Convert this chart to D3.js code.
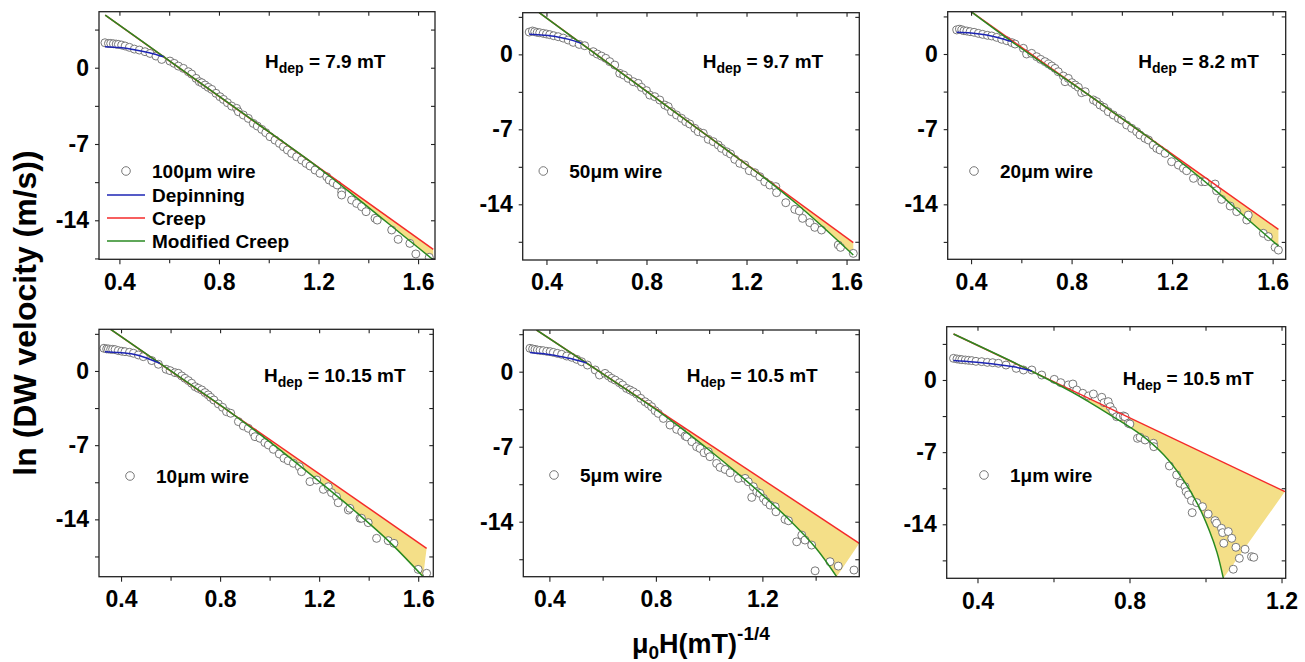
<!DOCTYPE html>
<html>
<head>
<meta charset="utf-8">
<script src="https://cdn.jsdelivr.net/npm/d3@7"></script>
<style>
  body { margin: 0; background: #fff; }
  svg text { font-family: "Liberation Sans", Arial, Helvetica, sans-serif; font-weight: bold; fill: #000; }
</style>
</head>
<body>
<svg id="chart" width="1305" height="662"></svg>
<script>
// ---------------- data ----------------
const wireLabels = ["100μm wire", "50μm wire", "20μm wire", "10μm wire", "5μm wire", "1μm wire"];
const hdepValues = ["7.9", "9.7", "8.2", "10.15", "10.5", "10.5"];
const legendNames = ["Depinning", "Creep", "Modified Creep"];

const xTicksWide = [0.4, 0.8, 1.2, 1.6];
const xMinorWide = [0.6, 1.0, 1.4];
const xTicksMid = [0.4, 0.8, 1.2];
const xMinorMid = [0.6, 1.0, 1.4];
const xTicksNarrow = [0.4, 0.8, 1.2];
const xMinorNarrow = [0.6, 1.0];
const yTicks = [0, -7, -14];
const yMinor = [3.5, -3.5, -10.5, -17.5];

// measured ln(v) versus (mu0 H)^(-1/4)
const wire100 = [[0.342,2.29],[0.356,2.23],[0.365,2.23],[0.376,2.20],[0.387,2.17],[0.396,2.14],[0.409,2.08],[0.423,1.99],[0.440,1.87],[0.460,1.71],[0.480,1.62],[0.503,1.47],[0.523,1.31],[0.547,1.07],[0.570,0.76],[0.603,0.61],[0.620,0.40],[0.637,0.15],[0.657,-0.06],[0.677,-0.37],[0.690,-0.58],[0.708,-0.98],[0.721,-1.28],[0.731,-1.38],[0.744,-1.59],[0.757,-1.80],[0.771,-1.99],[0.788,-2.35],[0.804,-2.66],[0.818,-2.91],[0.834,-3.21],[0.851,-3.52],[0.871,-3.73],[0.878,-4.04],[0.898,-4.34],[0.918,-4.65],[0.938,-5.11],[0.954,-5.35],[0.972,-5.66],[0.988,-5.96],[1.005,-6.33],[1.025,-6.64],[1.043,-6.94],[1.059,-7.25],[1.075,-7.55],[1.092,-7.86],[1.112,-8.17],[1.132,-8.47],[1.150,-8.78],[1.166,-9.02],[1.186,-9.39],[1.206,-9.69],[1.233,-10.00],[1.243,-10.31],[1.259,-10.55],[1.275,-10.76],[1.293,-11.38],[1.293,-11.68],[1.333,-12.14],[1.353,-12.45],[1.373,-12.75],[1.391,-13.21],[1.427,-13.82],[1.436,-13.98],[1.494,-14.89],[1.520,-15.75],[1.567,-16.12],[1.591,-17.09],[1.645,-17.40]];
const wire50 = [[0.331,2.08],[0.344,2.18],[0.353,2.12],[0.363,2.05],[0.373,2.02],[0.387,1.96],[0.400,1.90],[0.413,1.84],[0.429,1.74],[0.447,1.65],[0.467,1.52],[0.487,1.34],[0.507,1.12],[0.531,0.93],[0.553,0.81],[0.587,0.25],[0.603,0.03],[0.620,-0.16],[0.637,-0.37],[0.653,-0.68],[0.673,-1.00],[0.693,-1.77],[0.709,-1.93],[0.727,-2.24],[0.747,-2.55],[0.767,-2.71],[0.780,-3.08],[0.800,-3.39],[0.813,-3.80],[0.833,-3.95],[0.853,-4.26],[0.873,-4.73],[0.887,-4.88],[0.900,-5.35],[0.920,-5.66],[0.940,-5.97],[0.957,-6.29],[0.973,-6.50],[0.993,-6.91],[1.007,-7.22],[1.027,-7.37],[1.047,-7.93],[1.067,-8.15],[1.087,-8.46],[1.100,-8.77],[1.120,-9.09],[1.136,-9.30],[1.153,-9.80],[1.173,-10.17],[1.193,-10.33],[1.211,-10.86],[1.233,-11.05],[1.253,-11.42],[1.273,-11.89],[1.293,-12.20],[1.317,-12.35],[1.320,-12.91],[1.357,-13.85],[1.393,-14.47],[1.411,-14.62],[1.424,-15.31],[1.453,-15.71],[1.473,-16.15],[1.500,-16.40],[1.567,-17.80],[1.576,-18.02],[1.627,-18.58]];
const wire20 = [[0.343,2.24],[0.354,2.30],[0.363,2.24],[0.372,2.17],[0.383,2.14],[0.396,2.08],[0.412,2.02],[0.429,1.92],[0.446,1.83],[0.465,1.74],[0.482,1.68],[0.502,1.55],[0.522,1.37],[0.542,1.24],[0.562,1.06],[0.575,0.93],[0.608,0.53],[0.621,0.00],[0.641,0.06],[0.661,-0.25],[0.677,-0.50],[0.694,-0.71],[0.708,-0.93],[0.721,-1.12],[0.734,-1.34],[0.747,-1.65],[0.767,-2.05],[0.774,-2.58],[0.787,-2.27],[0.801,-2.67],[0.814,-2.89],[0.827,-3.10],[0.840,-3.60],[0.854,-3.51],[0.887,-4.28],[0.900,-4.44],[0.913,-4.75],[0.929,-4.97],[0.946,-5.37],[0.966,-5.68],[0.986,-5.99],[0.999,-6.15],[1.019,-6.61],[1.039,-6.92],[1.059,-7.23],[1.072,-7.54],[1.092,-7.85],[1.106,-8.01],[1.125,-8.48],[1.139,-8.79],[1.152,-8.94],[1.172,-9.25],[1.198,-10.03],[1.225,-10.34],[1.245,-10.65],[1.258,-10.87],[1.285,-11.58],[1.318,-11.89],[1.331,-11.89],[1.371,-12.11],[1.377,-12.73],[1.397,-13.54],[1.431,-14.16],[1.457,-14.68],[1.497,-15.46],[1.503,-15.00],[1.563,-16.70],[1.583,-17.01],[1.610,-18.01],[1.623,-18.26]];
const wire10 = [[0.331,2.14],[0.342,2.08],[0.349,2.08],[0.358,2.04],[0.366,2.04],[0.376,2.01],[0.389,1.92],[0.403,1.86],[0.416,1.82],[0.434,1.76],[0.450,1.67],[0.470,1.51],[0.490,1.35],[0.524,0.98],[0.551,0.63],[0.582,0.16],[0.598,0.03],[0.618,-0.16],[0.631,-0.22],[0.645,-0.47],[0.658,-0.69],[0.672,-0.91],[0.685,-1.16],[0.699,-1.48],[0.712,-1.64],[0.726,-1.79],[0.739,-2.04],[0.752,-2.26],[0.762,-2.49],[0.775,-2.74],[0.793,-3.11],[0.810,-3.43],[0.826,-3.84],[0.843,-3.99],[0.874,-4.78],[0.894,-5.19],[0.914,-5.41],[0.934,-5.82],[0.941,-6.20],[0.961,-6.35],[0.981,-6.76],[0.995,-6.98],[1.015,-7.39],[1.039,-7.83],[1.058,-8.24],[1.075,-8.46],[1.096,-8.71],[1.120,-9.03],[1.129,-9.50],[1.163,-10.44],[1.190,-10.29],[1.217,-11.17],[1.237,-10.92],[1.250,-11.48],[1.270,-11.86],[1.277,-12.43],[1.318,-13.12],[1.324,-12.96],[1.365,-13.90],[1.371,-13.90],[1.398,-14.31],[1.432,-15.79],[1.479,-16.01],[1.502,-16.26],[1.600,-18.72],[1.634,-19.09]];
const wire5 = [[0.327,2.18],[0.337,2.12],[0.346,2.08],[0.355,2.02],[0.365,1.99],[0.377,1.96],[0.390,1.90],[0.403,1.87],[0.415,1.80],[0.430,1.71],[0.446,1.62],[0.465,1.46],[0.484,1.34],[0.503,1.15],[0.521,0.93],[0.543,0.62],[0.572,0.16],[0.588,-0.31],[0.609,-0.16],[0.622,-0.40],[0.634,-0.62],[0.647,-0.78],[0.663,-1.03],[0.675,-1.24],[0.690,-1.56],[0.703,-1.71],[0.715,-1.87],[0.728,-2.08],[0.743,-2.49],[0.759,-2.80],[0.772,-3.02],[0.784,-3.27],[0.797,-3.64],[0.809,-3.89],[0.828,-4.36],[0.853,-4.98],[0.878,-5.38],[0.897,-5.60],[0.910,-6.00],[0.916,-6.07],[0.935,-6.53],[0.953,-7.00],[0.966,-7.16],[0.981,-7.56],[0.997,-7.47],[1.003,-7.93],[1.028,-8.56],[1.041,-8.93],[1.060,-9.12],[1.079,-9.43],[1.110,-9.96],[1.135,-9.96],[1.147,-10.27],[1.160,-11.73],[1.166,-10.73],[1.179,-11.20],[1.191,-11.36],[1.204,-11.82],[1.214,-12.13],[1.229,-12.45],[1.248,-12.60],[1.251,-13.07],[1.285,-13.78],[1.298,-13.91],[1.329,-15.87],[1.348,-15.25],[1.360,-15.71],[1.385,-16.18],[1.398,-18.58],[1.454,-17.73],[1.485,-18.14],[1.544,-18.51]];
const wire1 = [[0.337,2.10],[0.346,2.04],[0.353,2.00],[0.359,1.97],[0.368,1.94],[0.376,1.91],[0.385,1.88],[0.396,1.81],[0.411,1.78],[0.426,1.71],[0.440,1.68],[0.455,1.62],[0.475,1.45],[0.502,1.13],[0.521,0.97],[0.543,0.97],[0.569,0.48],[0.602,0.06],[0.619,-0.26],[0.639,-0.48],[0.651,-0.39],[0.661,-0.97],[0.677,-1.29],[0.692,-1.55],[0.705,-1.36],[0.727,-1.68],[0.733,-2.20],[0.744,-2.10],[0.749,-2.59],[0.756,-2.97],[0.766,-3.56],[0.775,-3.56],[0.784,-3.49],[0.788,-3.56],[0.797,-4.20],[0.801,-4.27],[0.821,-5.66],[0.828,-5.56],[0.841,-5.82],[0.863,-6.14],[0.864,-6.47],[0.905,-8.34],[0.924,-9.21],[0.933,-10.02],[0.946,-10.35],[0.949,-10.83],[0.955,-11.15],[0.963,-11.70],[0.965,-12.87],[0.977,-11.90],[0.992,-12.29],[1.007,-13.00],[1.025,-13.64],[1.029,-13.90],[1.042,-14.39],[1.045,-14.81],[1.048,-15.84],[1.060,-14.71],[1.069,-15.36],[1.080,-16.23],[1.089,-17.30],[1.104,-16.42],[1.121,-17.14],[1.127,-17.20],[1.073,-18.36]];

// fitted curves: depinning, creep and modified creep
const dep100 = [[0.342,1.93],[0.40,1.85],[0.46,1.65],[0.52,1.37],[0.577,1.01]];
const dep50  = [[0.331,1.87],[0.39,1.78],[0.44,1.65],[0.49,1.40],[0.540,1.03]];
const dep20  = [[0.343,2.02],[0.40,1.95],[0.462,1.77],[0.51,1.52],[0.562,1.15]];
const dep10  = [[0.335,1.82],[0.39,1.74],[0.45,1.58],[0.50,1.25],[0.557,0.72]];
const dep5   = [[0.327,1.80],[0.38,1.67],[0.434,1.45],[0.49,1.17],[0.540,0.82]];
const dep1   = [[0.337,1.88],[0.39,1.74],[0.442,1.55],[0.50,1.25],[0.543,0.88]];

const creep100 = [[0.343,4.83],[1.661,-16.66]];
const creep50  = [[0.371,3.89],[1.627,-17.58]];
const creep20  = [[0.400,3.94],[1.623,-16.33]];
const creep10  = [[0.358,3.93],[1.634,-16.73]];
const creep5   = [[0.352,3.89],[1.564,-16.02]];
const creep1   = [[0.337,4.46],[1.209,-10.83]];

const mod100 = [[0.343,4.83],[0.577,1.02],[0.931,-4.75],[1.15,-8.32],[1.25,-10.05],[1.35,-11.88],[1.45,-13.73],[1.55,-15.58],[1.661,-17.63]];
const mod50  = [[0.371,3.89],[0.54,1.0],[0.873,-4.69],[1.1,-8.57],[1.3,-12.04],[1.4,-13.95],[1.5,-16.0],[1.627,-18.73]];
const mod20  = [[0.400,3.94],[0.562,1.15],[0.913,-4.56],[1.1,-7.66],[1.258,-10.5],[1.377,-12.8],[1.503,-15.44],[1.623,-17.88]];
const mod10  = [[0.358,3.93],[0.557,0.71],[0.85,-4.04],[1.015,-6.95],[1.217,-10.75],[1.351,-13.35],[1.486,-16.17],[1.62,-19.41]];
const mod5   = [[0.352,3.89],[0.54,0.80],[0.8,-3.52],[0.9,-5.36],[1.0,-7.31],[1.1,-9.35],[1.2,-11.49],[1.3,-13.79],[1.4,-16.43],[1.479,-19.13]];
const mod1   = [[0.337,4.46],[0.543,0.85],[0.65,-1.2],[0.75,-3.4],[0.83,-5.3],[0.89,-7.25],[0.94,-9.6],[0.98,-12.1],[1.01,-14.6],[1.03,-16.7],[1.047,-19.24]];

// ---------------- layout & style ----------------
const colors = { dep: "#1c24b4", creep: "#f42a2a", mod: "#2a8a22", fill: "#f4df88", marker: "#6a6a6a", frame: "#222" };

const panels = [
  { box: [99, 11.7, 435, 259.3],    xDom: [0.318, 1.668], yDom: [-17.58, 5.14], xT: xTicksWide,   xM: xMinorWide,   pts: wire100, dep: dep100, creep: creep100, mod: mod100, hdepAt: [265, 68],    legAt: [126, 171],   full: true },
  { box: [522.7, 12.7, 859.3, 260], xDom: [0.305, 1.651], yDom: [-19.2, 3.89],  xT: xTicksWide,   xM: xMinorWide,   pts: wire50,  dep: dep50,  creep: creep50,  mod: mod50,  hdepAt: [702.7, 68.3], legAt: [543.3, 171] },
  { box: [947.7, 11.7, 1285.7, 259.3], xDom: [0.307, 1.652], yDom: [-19.12, 3.94], xT: xTicksWide, xM: xMinorWide,   pts: wire20,  dep: dep20,  creep: creep20,  mod: mod20,  hdepAt: [1138.3, 68.3], legAt: [974, 171] },
  { box: [99, 329.3, 433.3, 576.7], xDom: [0.311, 1.661], yDom: [-19.41, 3.93], xT: xTicksWide,   xM: xMinorWide,   pts: wire10,  dep: dep10,  creep: creep10,  mod: mod10,  hdepAt: [264, 381.7],  legAt: [130, 476] },
  { box: [523.3, 330, 859.3, 576.7], xDom: [0.302, 1.564], yDom: [-19.13, 3.89], xT: xTicksMid,   xM: xMinorMid,    pts: wire5,   dep: dep5,   creep: creep5,   mod: mod5,   hdepAt: [686.7, 381.7], legAt: [554, 475] },
  { box: [946.7, 326.7, 1285.7, 578.3], xDom: [0.319, 1.211], yDom: [-19.24, 5.17], xT: xTicksNarrow, xM: xMinorNarrow, pts: wire1, dep: dep1, creep: creep1, mod: mod1, hdepAt: [1122.7, 385], legAt: [984, 475] }
];

const svg = d3.select("#chart");
const fmtX = d3.format(".1f");
const fmtY = d => String(d);

panels.forEach((p, i) => {
  const [x0, y0, x1, y1] = p.box;
  const x = d3.scaleLinear().domain(p.xDom).range([x0, x1]);
  const y = d3.scaleLinear().domain(p.yDom).range([y1, y0]);
  const yMinorIn = yMinor.filter(v => v >= p.yDom[0] && v <= p.yDom[1]);

  const g = svg.append("g").attr("class", "panel");
  const clipId = "clip" + i;
  g.append("clipPath").attr("id", clipId)
    .append("rect").attr("x", x0).attr("y", y0).attr("width", x1 - x0).attr("height", y1 - y0);

  const plot = g.append("g").attr("clip-path", `url(#${clipId})`);

  const curveLine = d3.line().x(d => x(d[0])).y(d => y(d[1])).curve(d3.curveCatmullRom.alpha(0.5));
  const straight = d3.line().x(d => x(d[0])).y(d => y(d[1]));

  // shaded band between creep and modified creep
  const back = curveLine(p.mod.slice().reverse());
  const c0 = p.creep[0], c1 = p.creep[p.creep.length - 1];
  const bandPath = `M${x(c0[0])},${y(c0[1])}L${x(c1[0])},${y(c1[1])}L` + back.slice(1) + "Z";
  plot.append("path").attr("d", bandPath).attr("fill", colors.fill).attr("stroke", "none");

  // measured points
  plot.selectAll("circle.pt").data(p.pts).join("circle").attr("class", "pt")
    .attr("cx", d => x(d[0])).attr("cy", d => y(d[1])).attr("r", 4)
    .attr("fill", "#fff").attr("stroke", colors.marker).attr("stroke-width", 0.9);

  // fits
  plot.append("path").attr("d", straight(p.creep)).attr("fill", "none")
    .attr("stroke", colors.creep).attr("stroke-width", 1.5);
  plot.append("path").attr("d", curveLine(p.mod)).attr("fill", "none")
    .attr("stroke", colors.mod).attr("stroke-width", 1.5);
  plot.append("path").attr("d", curveLine(p.dep)).attr("fill", "none")
    .attr("stroke", colors.dep).attr("stroke-width", 1.5);

  // axes: labelled left/bottom, mirrored inward ticks top/right
  const axisStyle = sel => {
    sel.select(".domain").remove();
    sel.selectAll("line").attr("stroke", colors.frame).attr("stroke-width", 1.1);
    sel.selectAll("text").attr("font-size", 23).attr("fill", "#000")
      .style("font-family", '"Liberation Sans", Arial, sans-serif').style("font-weight", "bold");
  };
  g.append("g").attr("transform", `translate(0,${y1})`)
    .call(d3.axisBottom(x).tickValues(p.xT).tickFormat(fmtX).tickSize(5).tickPadding(9)).call(axisStyle);
  g.append("g").attr("transform", `translate(0,${y1})`)
    .call(d3.axisBottom(x).tickValues(p.xM).tickFormat("").tickSize(4)).call(axisStyle);
  g.append("g").attr("transform", `translate(0,${y0})`)
    .call(d3.axisTop(x).tickValues(p.xT.concat(p.xM)).tickFormat("").tickSize(-4)).call(axisStyle);
  g.append("g").attr("transform", `translate(${x0},0)`)
    .call(d3.axisLeft(y).tickValues(yTicks).tickFormat(fmtY).tickSize(4).tickPadding(6)).call(axisStyle);
  g.append("g").attr("transform", `translate(${x0},0)`)
    .call(d3.axisLeft(y).tickValues(yMinorIn).tickFormat("").tickSize(4)).call(axisStyle);
  g.append("g").attr("transform", `translate(${x1},0)`)
    .call(d3.axisRight(y).tickValues(yTicks.concat(yMinorIn)).tickFormat("").tickSize(-4)).call(axisStyle);

  g.append("rect").attr("x", x0).attr("y", y0).attr("width", x1 - x0).attr("height", y1 - y0)
    .attr("fill", "none").attr("stroke", colors.frame).attr("stroke-width", 1.3);

  // depinning field annotation
  const ht = g.append("text").attr("x", p.hdepAt[0]).attr("y", p.hdepAt[1]).attr("font-size", 19);
  ht.append("tspan").text("H");
  ht.append("tspan").attr("font-size", 14).attr("dy", 5).text("dep");
  ht.append("tspan").attr("dy", -5).text(` = ${hdepValues[i]} mT`);

  // legend
  const [lx, ly] = p.legAt;
  g.append("circle").attr("cx", lx).attr("cy", ly).attr("r", 4.3)
    .attr("fill", "#fff").attr("stroke", colors.marker).attr("stroke-width", 0.9);
  g.append("text").attr("x", lx + 26).attr("y", ly + 7).attr("font-size", 19).text(wireLabels[i]);
  if (p.full) {
    const keys = [colors.dep, colors.creep, colors.mod];
    keys.forEach((c, k) => {
      const yy = ly + 24 + k * 23;
      g.append("line").attr("x1", lx - 19).attr("x2", lx + 19).attr("y1", yy).attr("y2", yy)
        .attr("stroke", c).attr("stroke-width", 1.5);
      g.append("text").attr("x", lx + 26).attr("y", yy + 7).attr("font-size", 19).text(legendNames[k]);
    });
  }
});

// shared axis titles
svg.append("text").attr("transform", "translate(36,313) rotate(-90)")
  .attr("text-anchor", "middle").attr("font-size", 32).text("ln (DW velocity (m/s))");

const xt = svg.append("text").attr("x", 632).attr("y", 653).attr("font-size", 27);
xt.append("tspan").text("μ");
xt.append("tspan").attr("font-size", 19).attr("dy", 6).text("0");
xt.append("tspan").attr("dy", -6).text("H(mT)");
xt.append("tspan").attr("font-size", 19).attr("dy", -13).text("-1/4");
</script>
</body>
</html>
